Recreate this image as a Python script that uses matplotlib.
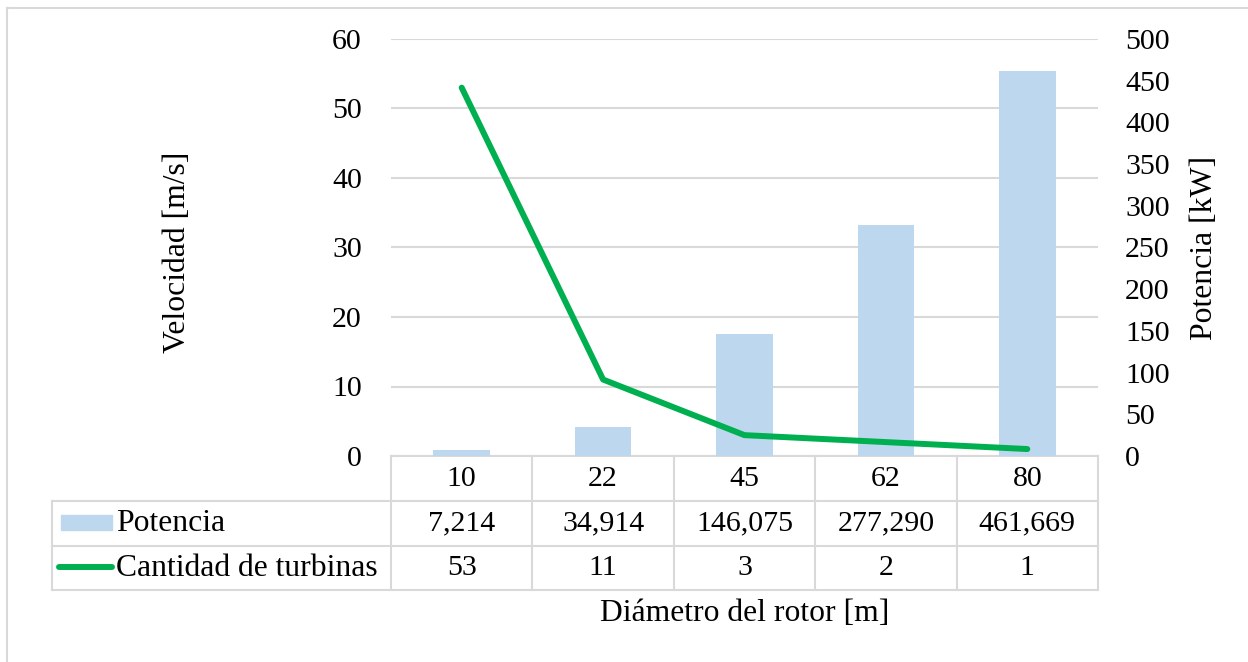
import numpy as np
import matplotlib
matplotlib.use('Agg')
import matplotlib.pyplot as plt
from matplotlib.patches import Rectangle
from matplotlib.lines import Line2D

# data
diametros = ['10', '22', '45', '62', '80']
potencia = [7.214, 34.914, 146.075, 277.290, 461.669]   # kW (right axis)
turbinas = [53, 11, 3, 2, 1]                            # left axis
vel_ticks = [0, 10, 20, 30, 40, 50, 60]
pot_ticks = [0, 50, 100, 150, 200, 250, 300, 350, 400, 450, 500]

plt.rcParams['font.family'] = ['Liberation Serif', 'DejaVu Serif']
FS = 21.5      # numbers
FT = 22.8      # words (rendered a bit wider in the original)
GRID = '#D9D9D9'
BLUE = '#BDD7EE'
GREEN = '#00B050'

W, H = 1248, 662
fig = plt.figure(figsize=(W / 100, H / 100), dpi=100)

# plot area in pixels
x0, x1, ytop, ybot = 391, 1098, 39, 456
ax = fig.add_axes([x0 / W, (H - ybot) / H, (x1 - x0) / W, (ybot - ytop) / H])
ax2 = ax.twinx()

x = np.arange(len(diametros))
ax.set_xlim(-0.5, len(diametros) - 0.5)
ax.set_ylim(0, 60)
ax2.set_ylim(0, 500)
ax.set_yticks(vel_ticks)
ax2.set_yticks(pot_ticks)
ax.set_xticks([])
ax.grid(axis='y', color=GRID, lw=1.5)
ax.set_axisbelow(True)

for a in (ax, ax2):
    for s in a.spines.values():
        s.set_visible(False)
ax.tick_params(axis='y', length=0, pad=21, labelsize=FS)
ax2.tick_params(axis='y', length=0, pad=19.5, labelsize=FS)

# bars on the right scale, line on the left scale (drawn in ax2 so it sits over bars)
ax2.bar(x, potencia, width=0.4, color=BLUE, zorder=2)
ax2.plot(x, turbinas, color=GREEN, lw=4.3, solid_capstyle='round',
         transform=ax.transData, zorder=3)

ax.set_ylabel('Velocidad [m/s]', fontsize=FT)
ax.yaxis.set_label_coords(-0.281, 0.488)
ax2.set_ylabel('Potencia [kW]', fontsize=FT)
ax2.yaxis.set_label_coords(1.130, 0.5)
ax.set_xlabel('Diámetro del rotor [m]', fontsize=FT)
ax.xaxis.set_label_coords(0.5, -0.343)

# data table below the plot
tr = ax.get_xaxis_transform()
ppx = (x1 - x0) / len(diametros)      # pixels per category
hgt = ybot - ytop
def fy(py):
    return (ybot - py) / hgt
def fx(px):
    return -0.5 + (px - x0) / ppx

rows_y = [fy(456), fy(501), fy(546), fy(590)]
tleft = fx(52)
xr = len(diametros) - 0.5
kw = dict(transform=tr, clip_on=False, color=GRID, lw=1.5)
ax.add_line(Line2D([-0.5, xr], [rows_y[0]] * 2, **kw))
for yy in rows_y[1:]:
    ax.add_line(Line2D([tleft, xr], [yy] * 2, **kw))
ax.add_line(Line2D([tleft, tleft], [rows_y[1], rows_y[3]], **kw))
for i in range(len(diametros) + 1):
    ax.add_line(Line2D([i - 0.5] * 2, [rows_y[0], rows_y[3]], **kw))

yc = [(rows_y[k] + rows_y[k + 1]) / 2 for k in range(3)]
pot_txt = [f'{v:.3f}'.replace('.', ',') for v in potencia]
for i in range(len(diametros)):
    ax.text(i, yc[0], diametros[i], transform=tr, ha='center', va='center', fontsize=FS)
    ax.text(i, yc[1], pot_txt[i], transform=tr, ha='center', va='center', fontsize=FS)
    ax.text(i, yc[2], str(turbinas[i]), transform=tr, ha='center', va='center', fontsize=FS)

# legend keys inside table
ax.add_patch(Rectangle((fx(61), fy(530)), fx(112) - fx(61), fy(515) - fy(530),
                       transform=tr, clip_on=False, color=BLUE))
ax.add_line(Line2D([fx(59), fx(112)], [fy(567)] * 2, transform=tr, clip_on=False,
                   color=GREEN, lw=4.3, solid_capstyle='round'))
ax.text(fx(116), yc[1], 'Potencia', transform=tr, ha='left', va='center', fontsize=FT)
ax.text(fx(116), yc[2], 'Cantidad de turbinas', transform=tr, ha='left', va='center',
        fontsize=FT)

# chart frame (top and left visible)
fig.add_artist(Line2D([7 / W, 1], [1 - 8 / H] * 2, transform=fig.transFigure,
                      color=GRID, lw=1.5))
fig.add_artist(Line2D([7 / W] * 2, [0, 1 - 8 / H], transform=fig.transFigure,
                      color=GRID, lw=1.5))

fig.savefig('out.png', dpi=100)
